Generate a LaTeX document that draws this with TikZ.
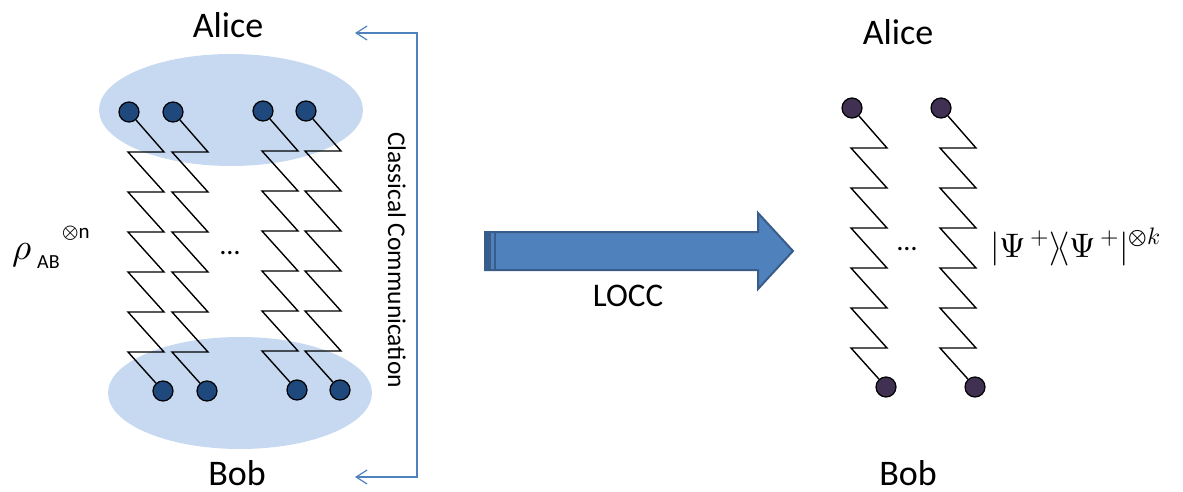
\documentclass[tikz,border=0pt]{standalone}
\usepackage{fontspec}
\usepackage{unicode-math}
\setmainfont{Carlito}
\usetikzlibrary{arrows.meta}
\definecolor{ellblue}{RGB}{198,217,241}
\definecolor{qubitblue}{RGB}{31,73,125}
\definecolor{qubitpurple}{RGB}{64,49,82}
\definecolor{linkblue}{RGB}{79,129,189}
\definecolor{arrowedge}{RGB}{56,93,138}
\begin{document}
\begin{tikzpicture}[x=1pt,y=-1pt,
    qubit/.style={circle, draw=black, line width=1.2pt, minimum size=20pt, inner sep=0pt},
    party/.style={anchor=base, inner sep=0pt, font=\fontsize{36}{40}\selectfont},
    spring/.style={line width=1.4pt, line join=miter}]
    \useasboundingbox (0,0) rectangle (1183,492);

    \fill[ellblue] (231,110) ellipse (132 and 56);% Alice
    \fill[ellblue] (240,393) ellipse (132 and 56);% Bob

    \node[party] (aliceL) at (228,38) {Alice};
    \node[party] (bobL) at (237,485) {Bob};

    \node[qubit, fill=qubitblue] (la1) at (129,112) {};
    \node[qubit, fill=qubitblue] (la2) at (173,112) {};
    \node[qubit, fill=qubitblue] (la3) at (263,111) {};
    \node[qubit, fill=qubitblue] (la4) at (306,111) {};
    \node[qubit, fill=qubitblue] (lb1) at (163,391) {};
    \node[qubit, fill=qubitblue] (lb2) at (207,391) {};
    \node[qubit, fill=qubitblue] (lb3) at (297,390) {};
    \node[qubit, fill=qubitblue] (lb4) at (340,390) {};

    \foreach \i in {1,...,4}
        \draw[spring] (la\i) -- ++(35,40) \foreach \k in {1,...,5}{ -- ++(-36,0) -- ++(36,40)} -- ++(-36,0) -- (lb\i);

    \node[anchor=base, font=\fontsize{28}{30}\selectfont] (dotsL) at (230,254) {…};

    \node[anchor=base west, inner sep=0pt, font=\fontsize{37}{40}\selectfont] (rho) at (12,259) {$\rho$};
    \node[anchor=base west, inner sep=0pt, font=\fontsize{20}{24}\selectfont] (rhoAB) at (37,268) {AB};
    \node[anchor=base west, inner sep=0pt, font=\fontsize{21}{24}\selectfont] (rhoN) at (62,238) {$\otimes$n};

    % classical channel
    \coordinate (ccA) at (355,33);
    \coordinate (ccB) at (355,477);
    \draw[linkblue, line width=1.2pt, {Straight Barb[length=11pt,width=14pt]}-{Straight Barb[length=11pt,width=14pt]}]
        (ccA) -- ++(62,0) |- (ccB);
    \node[rotate=-90, font=\fontsize{25.5}{28}\selectfont] (cc) at (397,260) {Classical Communication};

    % LOCC arrow
    \filldraw[fill=linkblue, draw=arrowedge, line width=2pt, line join=miter]
        (485,232) -- (758,232) -- (758,213) -- (793,251) -- (758,289) -- (758,270) -- (485,270) -- cycle;
    \fill[arrowedge] (485,232) rectangle (491,270);
    \draw[arrowedge, line width=1.5pt] (495,232) -- (495,270);
    \node[anchor=base, font=\fontsize{33}{36}\selectfont] (locc) at (628,306) {LOCC};

    \node[party] (aliceR) at (898,45) {Alice};
    \node[party] (bobR) at (908,485) {Bob};

    \node[qubit, fill=qubitpurple] (ra1) at (852,108) {};
    \node[qubit, fill=qubitpurple] (ra2) at (941,108) {};
    \node[qubit, fill=qubitpurple] (rb1) at (886,387) {};
    \node[qubit, fill=qubitpurple] (rb2) at (975,387) {};

    \foreach \i in {1,2}
        \draw[spring] (ra\i) -- ++(35,40) \foreach \k in {1,...,5}{ -- ++(-36,0) -- ++(36,40)} -- ++(-36,0) -- (rb\i);

    \node[anchor=base, font=\fontsize{28}{30}\selectfont] (dotsR) at (907,250) {…};

    \node[anchor=base west, inner sep=0pt, font=\fontsize{34}{38}\selectfont] (bell) at (990,257)
        {$|\Psi^{\,+}\rangle\!\langle\Psi^{\,+}|^{\otimes k}$};
\end{tikzpicture}
\end{document}
